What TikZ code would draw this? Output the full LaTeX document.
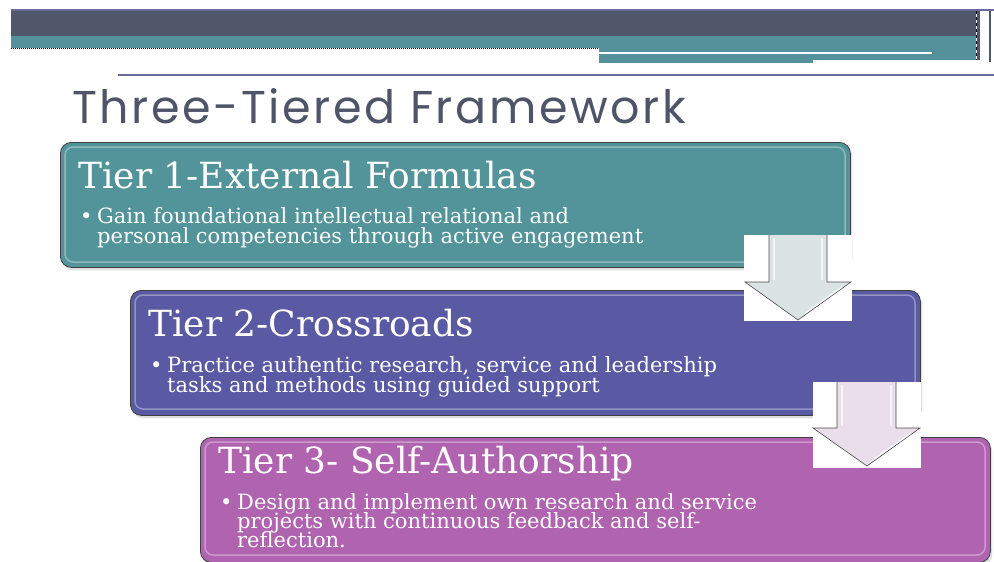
\documentclass[tikz,border=0pt]{standalone}
\usepackage{fontspec}
\setmainfont{DejaVu Serif}
\newfontfamily\titlefont[LetterSpace=5.5]{Poppins}
\usetikzlibrary{shadows,positioning}

\definecolor{headdark}{HTML}{51576B}
\definecolor{headteal}{HTML}{54919A}
\definecolor{headline}{HTML}{6B6B9E}
\definecolor{titlegray}{HTML}{4F5468}
\definecolor{tealbox}{HTML}{52949A}
\definecolor{bluebox}{HTML}{5959A4}
\definecolor{pinkbox}{HTML}{B064B0}
\definecolor{arrowone}{HTML}{DCE4E3}
\definecolor{arrowtwo}{HTML}{E9DEE9}

\tikzset{
  tierbox/.style={draw=black!75, line width=0.8pt, rounded corners=11pt,
    anchor=north west, inner sep=0pt, minimum width=790pt, minimum height=125pt,
    drop shadow={shadow xshift=2pt, shadow yshift=-3pt, opacity=0.25}},
  gloss/.style={white, opacity=0.35, line width=1.5pt, rounded corners=8pt},
  tierhead/.style={anchor=base west, inner sep=0pt, text=white,
    font=\fontsize{36}{42}\selectfont},
  tierbullet/.style={anchor=base west, inner sep=0pt, text=white,
    font=\fontsize{21}{23}\selectfont},
  downarrow/.style={draw=black!70, line width=0.6pt, line join=miter},
  shine/.style={white, line width=1.5pt, opacity=0.7}
}

\begin{document}
\begin{tikzpicture}[x=1pt,y=-1pt]
  \useasboundingbox (0,0) rectangle (994,562);

  % header bars
  \fill[headline] (11,9) rectangle (994,11);
  \fill[headdark] (11,11) rectangle (976,36);
  \fill[headteal] (11,36) rectangle (976,48);
  \fill[headteal] (599,48) rectangle (976,60);
  \fill[headteal] (599,60) rectangle (813,63);
  \fill[white] (599,52) rectangle (932,54);
  \draw[black, densely dotted, line width=1pt] (11,48.5) -- (599,48.5);
  \draw[black, dashed, line width=0.8pt] (976,11) -- (976,60);
  \fill[headdark] (977,11) rectangle (980,60);
  \fill[headdark] (989,11) rectangle (991,62);
  \fill[headline] (118,74) rectangle (994,76);

  \node[anchor=base west, inner sep=0pt, text=titlegray,
    font=\titlefont\fontsize{46}{54}\selectfont] (title) at (72,123) {Three-Tiered Framework};

  % tier boxes
  \node[tierbox, fill=tealbox] (tierone) at (60,142) {};
  \node[tierbox, fill=bluebox] (tiertwo) at (130,290) {};
  \node[tierbox, fill=pinkbox] (tierthree) at (200,437) {};
  \draw[gloss] (65,147) rectangle (845,262);
  \draw[gloss] (135,295) rectangle (915,409);
  \draw[gloss] (205,442) rectangle (985,555);

  \node[tierhead] (headone) at (78,188) {Tier 1-External Formulas};
  \node[tierbullet] (dotone) at (80,223) {\textbullet};
  \node[tierbullet] (oneA) at (97,223) {Gain foundational intellectual relational and};
  \node[tierbullet] (oneB) at (97,243) {personal competencies through active engagement};

  \node[tierhead] (headtwo) at (148,336) {Tier 2-Crossroads};
  \node[tierbullet] (dottwo) at (150,372) {\textbullet};
  \node[tierbullet] (twoA) at (167,372) {Practice authentic research, service and leadership};
  \node[tierbullet] (twoB) at (167,392) {tasks and methods using guided support};

  \node[tierhead] (headthree) at (218,473) {Tier 3- Self-Authorship};
  \node[tierbullet] (dotthree) at (220,509) {\textbullet};
  \node[tierbullet] (threeA) at (237,509) {Design and implement own research and service};
  \node[tierbullet] (threeB) at (237,528) {projects with continuous feedback and self-};
  \node[tierbullet] (threeC) at (237,547) {reflection.};

  % down arrows
  \fill[white] (744,235) rectangle (852,321);
  \filldraw[downarrow, fill=arrowone] (769,235) -- (769,282) -- (745,282) -- (798,320)
    -- (851,282) -- (827,282) -- (827,235);
  \draw[shine] (774,238) -- (774,280);
  \draw[shine] (822,238) -- (822,280);
  \draw[shine] (842,287) -- (805,313);

  \fill[white] (813,382) rectangle (921,468);
  \filldraw[downarrow, fill=arrowtwo] (837,382) -- (837,428) -- (813,428) -- (867,466)
    -- (920,428) -- (896,428) -- (896,382);
  \draw[shine] (842,385) -- (842,426);
  \draw[shine] (891,385) -- (891,426);
  \draw[shine] (911,433) -- (874,459);
\end{tikzpicture}
\end{document}
